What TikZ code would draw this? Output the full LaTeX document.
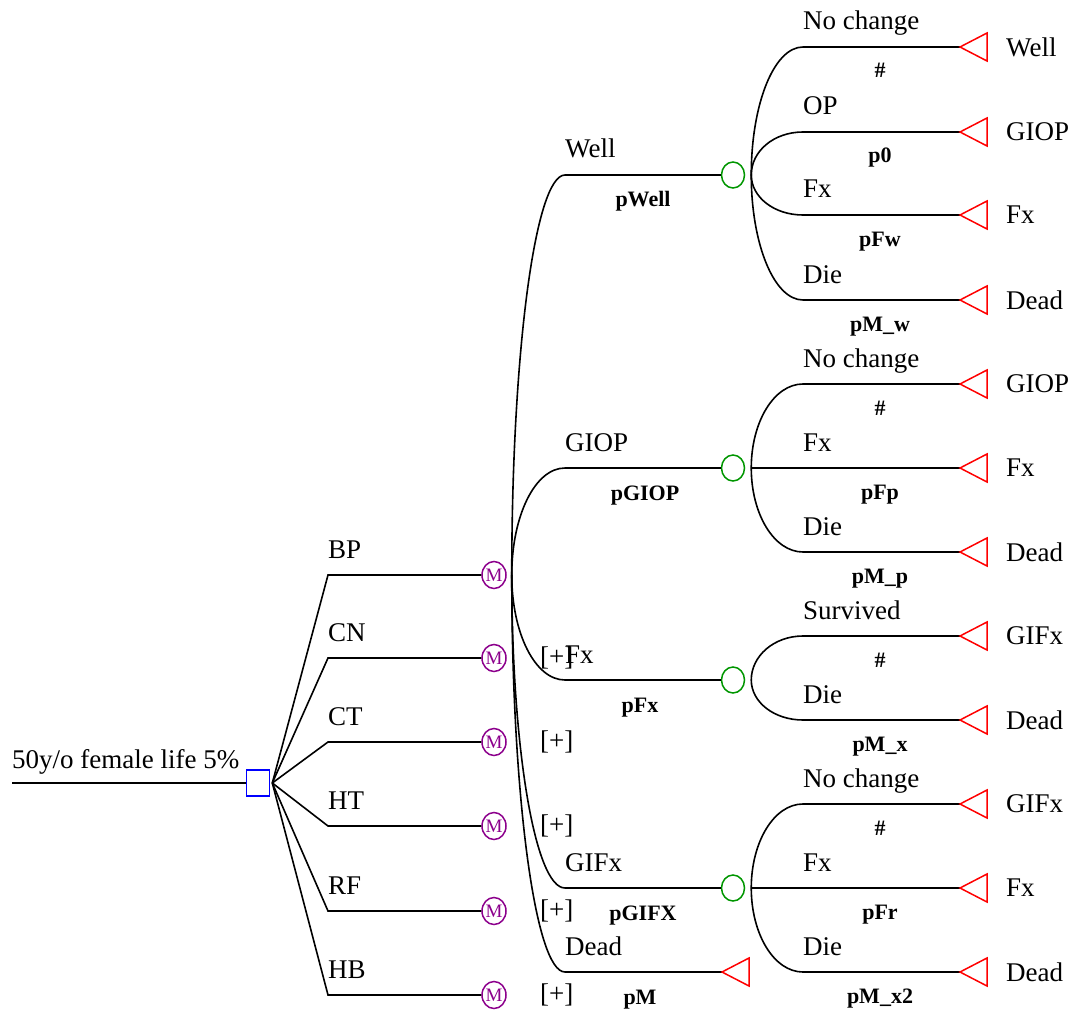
\documentclass[tikz,border=0pt]{standalone}
\usepackage{fontspec}
\setmainfont{Liberation Serif}
\setsansfont{Liberation Sans}
\usetikzlibrary{shapes.geometric}
\definecolor{decblue}{RGB}{0,0,255}
\definecolor{chgreen}{RGB}{0,150,0}
\definecolor{mkpurple}{RGB}{140,0,140}
\definecolor{trred}{RGB}{255,0,0}
\newcommand\chancebranches[2]{%
  \foreach \i/\y/\d/\nm/\pr/\tl in {#2} {
    \coordinate (k#1\i) at (803,\y);
    \coordinate (t#1\i) at (960,\y);
    \draw[br] ([xshift=6pt]c#1.east) .. controls +(0,\d) and +(-29,0) .. (k#1\i) -- (t#1\i);
    \draw[termst] (t#1\i) -- ++(27,-14) -- ++(0,28) -- cycle;
    \node[lbl] (n#1\i) at (803,\y-17) {\nm};
    \node[prob] (p#1\i) at (880,\y+31) {\pr};
    \node[tlbl] (e#1\i) at (1006,\y) {\tl};
  }%
}
\begin{document}
\begin{tikzpicture}[x=1pt,y=-1pt,
  br/.style={line width=1.6pt, black},
  lbl/.style={font=\fontsize{27}{27}\selectfont, inner sep=0pt, anchor=base west},
  prob/.style={font=\bfseries\fontsize{22}{22}\selectfont, inner sep=0pt, anchor=base},
  tlbl/.style={font=\fontsize{27}{27}\selectfont, inner sep=0pt, anchor=west},
  plus/.style={font=\fontsize{27}{27}\selectfont, inner sep=0pt, anchor=west},
  decision/.style={draw=decblue, line width=1.6pt, rectangle, minimum width=23pt, minimum height=26pt, inner sep=0pt},
  chance/.style={draw=chgreen, line width=1.5pt, ellipse, minimum width=23pt, minimum height=26pt, inner sep=0pt},
  markov/.style={draw=mkpurple, line width=1.5pt, ellipse, minimum width=24pt, minimum height=27pt, inner sep=0pt, text=mkpurple, font=\fontsize{19}{19}\selectfont},
  termst/.style={draw=trred, line width=1.5pt},
]
\useasboundingbox (0,0) rectangle (1081,1011);

% root and decision node
\coordinate (r0) at (12,783);
\node[decision] (d) at (258,783) {};
\draw[br] (r0) -- (d.west);
\node[lbl] (rl) at (12,768) {50y/o female life 5\%};

% strategies
\foreach \n/\y in {BP/575, CN/658, CT/742, HT/826, RF/911, HB/995} {
  \node[markov] (m\n) at (494,\y) {M};
  \coordinate (k\n) at (328,\y);
  \draw[br] ([xshift=2pt]d.east) -- (k\n) -- (m\n.west);
  \node[lbl] (l\n) at (328,\y-17) {\n};
}
\foreach \n/\y in {CN/658, CT/742, HT/826, RF/911, HB/995} {
  \node[plus] (x\n) at (540,\y) {[+]};
}

% Markov states of BP
\node[chance] (cW) at (733,175) {};
\node[chance] (cG) at (733,468) {};
\node[chance] (cF) at (733,680) {};
\node[chance] (cX) at (733,888) {};
\coordinate (tD) at (722,972);

\coordinate (kW) at (565,175);
\coordinate (kG) at (565,468);
\coordinate (kF) at (565,680);
\coordinate (kX) at (565,888);
\coordinate (kD) at (565,972);

\draw[br] ([xshift=5pt]mBP.east) .. controls +(0,-221) and +(-30,0) .. (kW) -- (cW.west);
\draw[br] ([xshift=5pt]mBP.east) .. controls +(0,-59) and +(-30,0) .. (kG) -- (cG.west);
\draw[br] ([xshift=5pt]mBP.east) .. controls +(0,58) and +(-30,0) .. (kF) -- (cF.west);
\draw[br] ([xshift=5pt]mBP.east) .. controls +(0,173) and +(-30,0) .. (kX) -- (cX.west);
\draw[br] ([xshift=5pt]mBP.east) .. controls +(0,219) and +(-30,0) .. (kD) -- (tD);
\draw[termst] (tD) -- ++(27,-14) -- ++(0,28) -- cycle;

\node[lbl] (lW) at (565,158) {Well};
\node[lbl] (lG) at (565,451) {GIOP};
\node[lbl] (lF) at (565,663) {Fx};
\node[lbl] (lX) at (565,871) {GIFx};
\node[lbl] (lD) at (565,955) {Dead};
\node[prob] (pW) at (643,207) {pWell};
\node[prob] (pG) at (645,500) {pGIOP};
\node[prob] (pF) at (640,712) {pFx};
\node[prob] (pX) at (643,920) {pGIFX};
\node[prob] (pD) at (640,1004) {pM};

% chance branches
\chancebranches{W}{1/47/-71/No change/\#/Well, 2/132/-24/OP/p0/GIOP, 3/215/22/Fx/pFw/Fx, 4/300/69/Die/pM\_w/Dead}
\chancebranches{G}{1/384/-46/No change/\#/GIOP, 2/468/0/Fx/pFp/Fx, 3/552/46/Die/pM\_p/Dead}
\chancebranches{F}{1/636/-24/Survived/\#/GIFx, 2/720/22/Die/pM\_x/Dead}
\chancebranches{X}{1/804/-46/No change/\#/GIFx, 2/888/0/Fx/pFr/Fx, 3/972/46/Die/pM\_x2/Dead}
\end{tikzpicture}
\end{document}
